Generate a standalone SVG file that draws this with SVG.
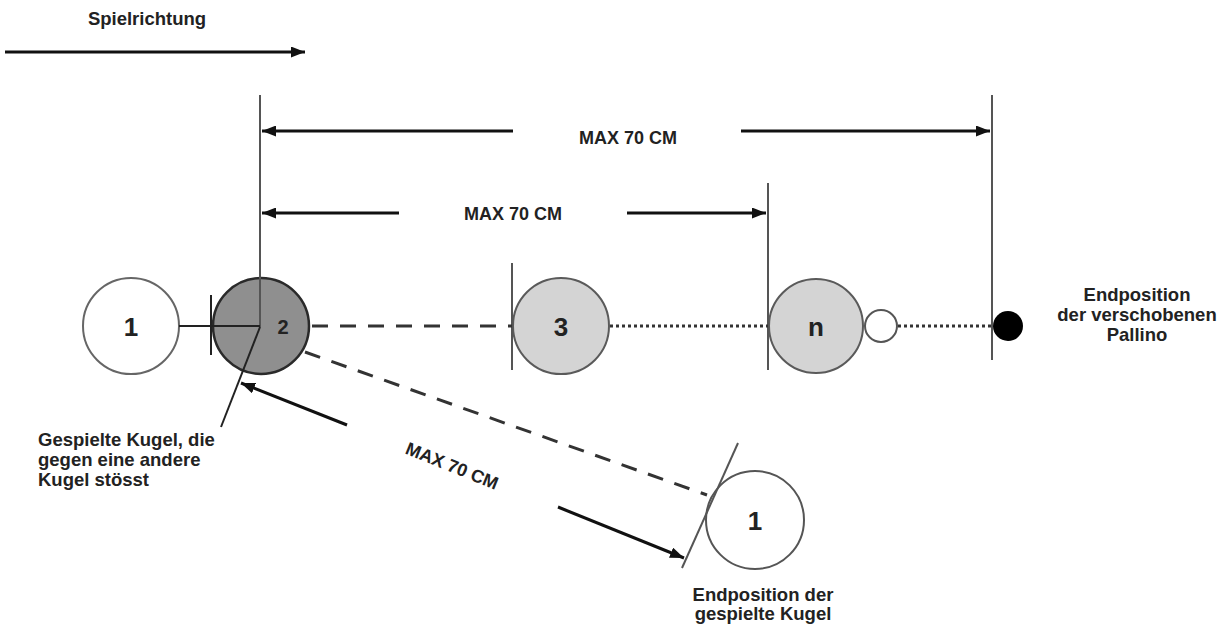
<svg xmlns="http://www.w3.org/2000/svg" width="1228" height="627" viewBox="0 0 1228 627">
<style>
text{font-family:"Liberation Sans",Arial,sans-serif;font-weight:bold;fill:#222}
.lbl{font-size:18.5px}
.dim{font-size:18px}
.num{font-size:26px;text-anchor:middle;dominant-baseline:central}
.arr{stroke:#111;stroke-width:3;fill:none}
.ext{stroke:#555;stroke-width:2;fill:none}
.thin{stroke:#222;stroke-width:2;fill:none}
.dash{stroke:#333;stroke-width:3;fill:none;stroke-dasharray:16 12}
.dot{stroke:#333;stroke-width:3;fill:none;stroke-dasharray:3 3}
</style>
<defs>
<marker id="ah" viewBox="0 0 14 11" refX="14" refY="5.5" markerWidth="14" markerHeight="11" orient="auto" markerUnits="userSpaceOnUse">
<path d="M0,0 L14,5.5 L0,11 z" fill="#111"/>
</marker>
</defs>
<rect width="1228" height="627" fill="#fff"/>

<g id="ball1">
<circle cx="131" cy="326" r="48" fill="#fff" stroke="#666" stroke-width="2"/>
<text class="num" x="131" y="327">1</text>
</g>
<g id="ball2">
<circle cx="261" cy="326" r="48" fill="#8f8f8f" stroke="#2a2a2a" stroke-width="2.5"/>
<text class="num" x="283" y="327" style="font-size:20px">2</text>
</g>
<g id="ball3">
<circle cx="561" cy="326" r="48" fill="#d4d4d4" stroke="#5a5a5a" stroke-width="2"/>
<text class="num" x="561" y="327">3</text>
</g>
<g id="ballN">
<circle cx="816" cy="326" r="47" fill="#d4d4d4" stroke="#5a5a5a" stroke-width="2"/>
<text class="num" x="816" y="327">n</text>
</g>
<g id="pallinoStart">
<circle cx="881" cy="326" r="16" fill="#fff" stroke="#555" stroke-width="2"/>
</g>
<g id="pallinoEnd">
<circle cx="1008" cy="326" r="15" fill="#000"/>
</g>
<g id="ball1End">
<circle cx="755" cy="520" r="49" fill="#fff" stroke="#555" stroke-width="2"/>
<text class="num" x="755" y="521">1</text>
</g>

<g id="labelSpielrichtung"><text class="lbl" x="147" y="25" text-anchor="middle">Spielrichtung</text></g>
<g id="labelPallino">
<text class="lbl" text-anchor="middle"><tspan x="1137" y="301">Endposition</tspan><tspan x="1137" y="321">der verschobenen</tspan><tspan x="1137" y="341">Pallino</tspan></text>
</g>
<g id="labelGespielt">
<text class="lbl"><tspan x="38" y="446">Gespielte Kugel, die</tspan><tspan x="38" y="466">gegen eine andere</tspan><tspan x="38" y="486">Kugel stösst</tspan></text>
</g>
<g id="labelEnd1">
<text class="lbl" text-anchor="middle"><tspan x="763" y="601">Endposition der</tspan><tspan x="763" y="620">gespielte Kugel</tspan></text>
</g>
<g id="dimTop"><text class="dim" x="628" y="144" text-anchor="middle">MAX 70 CM</text></g>
<g id="dimMid"><text class="dim" x="513" y="220" text-anchor="middle">MAX 70 CM</text></g>
<g id="dimDiag"><text class="dim" x="452" y="472" text-anchor="middle" transform="rotate(22 452 466)">MAX 70 CM</text></g>

<g id="connectors">
<line class="arr" x1="5" y1="52" x2="305" y2="52" marker-end="url(#ah)"/>
<line class="ext" x1="260" y1="95" x2="260" y2="327"/>
<line class="ext" x1="992" y1="95" x2="992" y2="360"/>
<line class="ext" x1="768" y1="183" x2="768" y2="370"/>
<line class="ext" x1="512" y1="263" x2="512" y2="370"/>
<line class="arr" x1="513" y1="131" x2="262" y2="131" marker-end="url(#ah)"/>
<line class="arr" x1="741" y1="131" x2="990" y2="131" marker-end="url(#ah)"/>
<line class="arr" x1="399" y1="213" x2="262" y2="213" marker-end="url(#ah)"/>
<line class="arr" x1="627" y1="213" x2="766" y2="213" marker-end="url(#ah)"/>
<line class="thin" x1="179" y1="326" x2="260" y2="326"/>
<line class="thin" x1="211" y1="295" x2="211" y2="355" stroke-width="2.5"/>
<line class="thin" x1="260" y1="327" x2="221" y2="427"/>
<line class="dash" x1="312" y1="326" x2="512" y2="326"/>
<line class="dot" x1="610" y1="326" x2="768" y2="326"/>
<line class="dot" x1="898" y1="326" x2="993" y2="326"/>
<line class="dash" x1="305" y1="352" x2="707" y2="495"/>
<line class="ext" x1="738" y1="443" x2="682" y2="568"/>
<line class="arr" x1="347" y1="425" x2="241" y2="383" marker-end="url(#ah)"/>
<line class="arr" x1="558" y1="507" x2="684" y2="558" marker-end="url(#ah)"/>
</g>
</svg>
